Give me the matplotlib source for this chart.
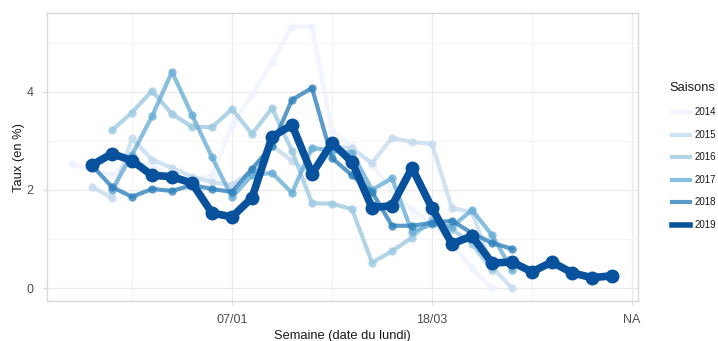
import numpy as np
import matplotlib
matplotlib.use("Agg")
import matplotlib.pyplot as plt
from matplotlib.lines import Line2D

plt.rcParams['font.family'] = ['Liberation Sans', 'DejaVu Sans']

# week offsets relative to Monday 07/01
weeks = list(range(-8, 20))
N = None
s2014 = [2.53, 2.41, 2.30, 2.60, 2.50, 2.30, 2.20, 2.30, 3.30, 3.95, 4.60, 5.33, 5.33, 3.20,
         2.90, 2.50, 2.00, 1.60, 1.30, 0.90, 0.40, 0.00, N, N, N, N, N, N]
s2015 = [N, 2.06, 1.84, 3.05, 2.62, 2.45, 2.27, 2.16, 2.10, 2.40, 2.90, 2.60, 2.30, 2.90,
         2.85, 2.55, 3.06, 2.98, 2.94, 1.63, 1.55, 0.43, 0.00, N, N, N, N, N]
s2016 = [N, N, 3.22, 3.58, 4.02, 3.55, 3.29, 3.28, 3.65, 3.14, 3.67, 2.80, 1.73, 1.72,
         1.61, 0.52, 0.75, 1.03, 1.40, 1.20, 0.90, 0.37, N, N, N, N, N, N]
s2017 = [N, N, 2.00, 2.72, 3.50, 4.41, 3.53, 2.67, 1.85, 2.30, 2.35, 1.94, 2.86, 2.80,
         2.76, 2.00, 2.24, 1.14, 1.30, 1.25, 1.59, 1.08, 0.37, N, N, N, N, N]
s2018 = [N, 2.50, 2.06, 1.86, 2.02, 1.98, 2.10, 2.02, 1.96, 2.43, 2.90, 3.84, 4.08, 2.65,
         2.30, 1.96, 1.27, 1.27, 1.33, 1.37, 1.12, 0.92, 0.80, N, N, N, N, N]
s2019 = [N, 2.51, 2.74, 2.60, 2.30, 2.27, 2.14, 1.53, 1.45, 1.84, 3.08, 3.33, 2.33, 2.96,
         2.57, 1.64, 1.68, 2.45, 1.63, 0.90, 1.06, 0.51, 0.53, 0.33, 0.53, 0.31, 0.21, 0.25]

seasons = ["2014", "2015", "2016", "2017", "2018", "2019"]
series = [s2014, s2015, s2016, s2017, s2018, s2019]
colors = ["#eff3ff", "#c6dbef", "#9ecae1", "#6baed6", "#3182bd", "#08519c"]

tick_pos = [0, 10, 20]
tick_labels = ["07/01", "18/03", "NA"]
minor_pos = [-5, 5, 15]
yticks = [0, 2, 4]
yminor = [1, 3, 5]

W, H = 718, 341
fig = plt.figure(figsize=(W / 100, H / 100), dpi=100)
ax = fig.add_axes([47 / W, 1 - 301 / H, (638 - 47) / W, (301 - 13) / H])

for name, vals, col in zip(seasons, series, colors):
    x = np.array([w for w, v in zip(weeks, vals) if v is not None], dtype=float)
    y = np.array([v for v in vals if v is not None], dtype=float)
    if name == "2019":
        ax.plot(x, y, color=col, lw=5.5, solid_capstyle='round', solid_joinstyle='round',
                marker='o', ms=9, zorder=5)
    else:
        ax.plot(x, y, color=col, lw=3.0, alpha=0.8, solid_capstyle='round',
                solid_joinstyle='round', marker='o', ms=6, mew=0, zorder=3)

ax.set_xlim(-9.25, 20.3)
ax.set_ylim(-0.265, 5.61)
ax.set_xticks(tick_pos)
ax.set_xticklabels(tick_labels)
ax.set_xticks(minor_pos, minor=True)
ax.set_yticks(yticks)
ax.set_yticks(yminor, minor=True)
ax.grid(True, which='major', color='#ebebeb', lw=0.9)
ax.grid(True, which='minor', color='#f4f4f4', lw=0.7)
ax.set_axisbelow(True)
for sp in ax.spines.values():
    sp.set_color('#d9d9d9')
    sp.set_linewidth(1.0)
ax.tick_params(which='both', length=3, color='#d9d9d9', labelsize=9, labelcolor='#4d4d4d')
ax.tick_params(axis='x', pad=6.5)
ax.tick_params(axis='y', pad=6.5)
ax.tick_params(which='minor', length=0)
ax.set_xlabel("Semaine (date du lundi)", fontsize=9.3, color='#1a1a1a', labelpad=3)
ax.set_ylabel("Taux (en %)", fontsize=9.3, color='#1a1a1a', labelpad=1)

# legend drawn manually to mimic the ggplot legend at the right edge
fig.text(669 / W, 1 - 88 / H, "Saisons", fontsize=9.3, color='#1a1a1a', va='center', ha='left')
for i, (name, col) in enumerate(zip(seasons, colors)):
    yy = 1 - (112 + i * 22.6) / H
    lw = 4.0 if name == "2019" else 3.0
    fig.add_artist(Line2D([672 / W, 690 / W], [yy, yy], color=col, lw=lw,
                          alpha=1.0 if name == "2019" else 0.8, transform=fig.transFigure))
    fig.text(695 / W, yy, name, fontsize=7.0, color='#1a1a1a', va='center', ha='left')

fig.savefig("out.png", dpi=100)
